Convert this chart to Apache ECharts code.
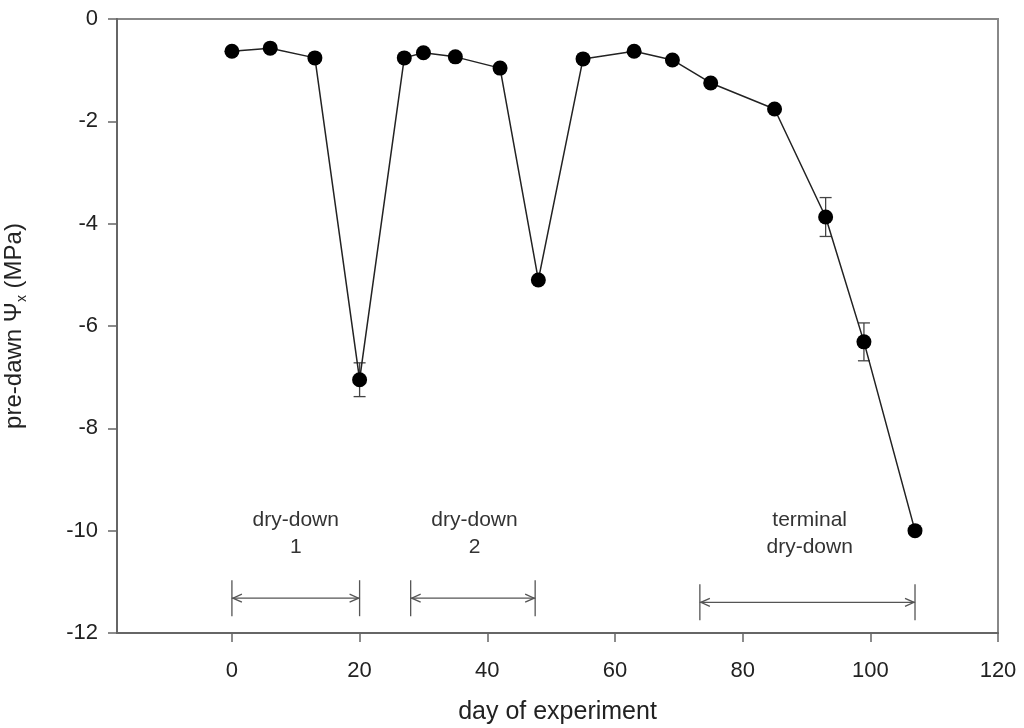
<!DOCTYPE html>
<html>
<head>
<meta charset="utf-8">
<script src="https://cdn.jsdelivr.net/npm/echarts@6/dist/echarts.min.js"></script>
<style>
html, body { margin: 0; padding: 0; background: #fff; }
#main { width: 1024px; height: 728px; }
</style>
</head>
<body>
<div id="main"></div>
<script>
// pre-dawn water potential over the experiment
const days = [0, 6, 13, 20, 27, 30, 35, 42, 48, 55, 63, 69, 75, 85, 93, 99, 107];
const psi = [-0.63, -0.57, -0.76, -7.05, -0.76, -0.66, -0.74, -0.96, -5.1, -0.78, -0.63, -0.8, -1.25, -1.76, -3.87, -6.31, -10.0];
const psiErr = [0, 0, 0, 0.33, 0, 0, 0, 0, 0, 0, 0, 0, 0, 0, 0.38, 0.37, 0];
const xTicks = [0, 20, 40, 60, 80, 100, 120];

// dry-down periods (arrows) and their labels
const periodStart = [0, 28, 73.3];
const periodEnd = [20, 47.5, 107];
const periodY = [-11.32, -11.32, -11.4];
const periodLabels = ['dry-down\n1', 'dry-down\n2', 'terminal\ndry-down'];
const labelX = [10, 38, 90.5];
const labelY = [-10.05, -10.05, -10.05];

const font = '"Liberation Sans", Arial, sans-serif';
const axisColor = '#666';
const textColor = '#222';

const chart = echarts.init(document.getElementById('main'));

const lineData = days.map((d, i) => [d, psi[i]]);
const errData = days.map((d, i) => [d, psi[i], psiErr[i]]).filter(r => r[2] > 0);
const periodData = periodStart.map((s, i) => [s, periodEnd[i], periodY[i]]);
const labelData = labelX.map((x, i) => [x, labelY[i]]);

chart.setOption({
  animation: false,
  grid: {
    left: 117, right: 26, top: 19, bottom: 95,
    show: true, borderColor: '#888', borderWidth: 2,
    outerBoundsMode: 'none'
  },
  xAxis: {
    type: 'value',
    min: -18,
    max: 120,
    splitLine: { show: false },
    axisLine: { onZero: false, lineStyle: { color: axisColor, width: 2 } },
    axisTick: { customValues: xTicks, length: 9, lineStyle: { color: axisColor, width: 1.5 } },
    axisLabel: { customValues: xTicks, fontSize: 22, fontFamily: font, color: textColor, margin: 27 },
    name: 'day of experiment',
    nameLocation: 'middle',
    nameGap: 67,
    nameTextStyle: { fontSize: 25, fontFamily: font, color: textColor }
  },
  yAxis: {
    type: 'value',
    min: -12,
    max: 0,
    interval: 2,
    splitLine: { show: false },
    axisLine: { onZero: false, lineStyle: { color: axisColor, width: 2 } },
    axisTick: { length: 9, lineStyle: { color: axisColor, width: 1.5 } },
    axisLabel: { fontSize: 22, fontFamily: font, color: textColor, margin: 19 },
    name: '{a|pre-dawn Ψ}{s|x}{a| (MPa)}',
    nameLocation: 'middle',
    nameGap: 88,
    nameTextStyle: {
      rich: {
        a: { fontSize: 24, fontFamily: font, color: textColor },
        s: { fontSize: 14, fontFamily: font, color: textColor, padding: [16, 0, 0, 0] }
      }
    }
  },
  series: [
    {
      // error bars
      type: 'custom',
      z: 2,
      encode: { x: 0, y: 1 },
      data: errData,
      renderItem: function (params, api) {
        const x = api.value(0), y = api.value(1), e = api.value(2);
        const top = api.coord([x, y + e]);
        const bot = api.coord([x, y - e]);
        const st = { stroke: '#444', lineWidth: 1.3 };
        return {
          type: 'group',
          children: [
            { type: 'line', shape: { x1: top[0], y1: top[1], x2: bot[0], y2: bot[1] }, style: st },
            { type: 'line', shape: { x1: top[0] - 6, y1: top[1], x2: top[0] + 6, y2: top[1] }, style: st },
            { type: 'line', shape: { x1: bot[0] - 6, y1: bot[1], x2: bot[0] + 6, y2: bot[1] }, style: st }
          ]
        };
      }
    },
    {
      type: 'line',
      z: 3,
      data: lineData,
      symbol: 'circle',
      symbolSize: 15,
      itemStyle: { color: '#000' },
      lineStyle: { color: '#222', width: 1.5 }
    },
    {
      // dry-down period arrows
      type: 'custom',
      z: 2,
      encode: { x: [0, 1], y: 2 },
      data: periodData,
      renderItem: function (params, api) {
        const s = api.coord([api.value(0), api.value(2)]);
        const e = api.coord([api.value(1), api.value(2)]);
        const st = { stroke: '#555', lineWidth: 1.3, fill: null };
        return {
          type: 'group',
          children: [
            { type: 'line', shape: { x1: s[0], y1: s[1], x2: e[0], y2: e[1] }, style: st },
            { type: 'line', shape: { x1: s[0], y1: s[1] - 18, x2: s[0], y2: s[1] + 18 }, style: st },
            { type: 'line', shape: { x1: e[0], y1: e[1] - 18, x2: e[0], y2: e[1] + 18 }, style: st },
            { type: 'polyline', shape: { points: [[s[0] + 10, s[1] - 4], [s[0] + 1, s[1]], [s[0] + 10, s[1] + 4]] }, style: st },
            { type: 'polyline', shape: { points: [[e[0] - 10, e[1] - 4], [e[0] - 1, e[1]], [e[0] - 10, e[1] + 4]] }, style: st }
          ]
        };
      }
    },
    {
      // period labels
      type: 'custom',
      z: 2,
      encode: { x: 0, y: 1 },
      data: labelData,
      renderItem: function (params, api) {
        const p = api.coord([api.value(0), api.value(1)]);
        return {
          type: 'text',
          x: p[0],
          y: p[1],
          style: {
            text: periodLabels[params.dataIndex],
            fontSize: 21,
            fontFamily: font,
            fill: '#333',
            align: 'center',
            verticalAlign: 'middle',
            lineHeight: 27
          }
        };
      }
    }
  ]
});
</script>
</body>
</html>
